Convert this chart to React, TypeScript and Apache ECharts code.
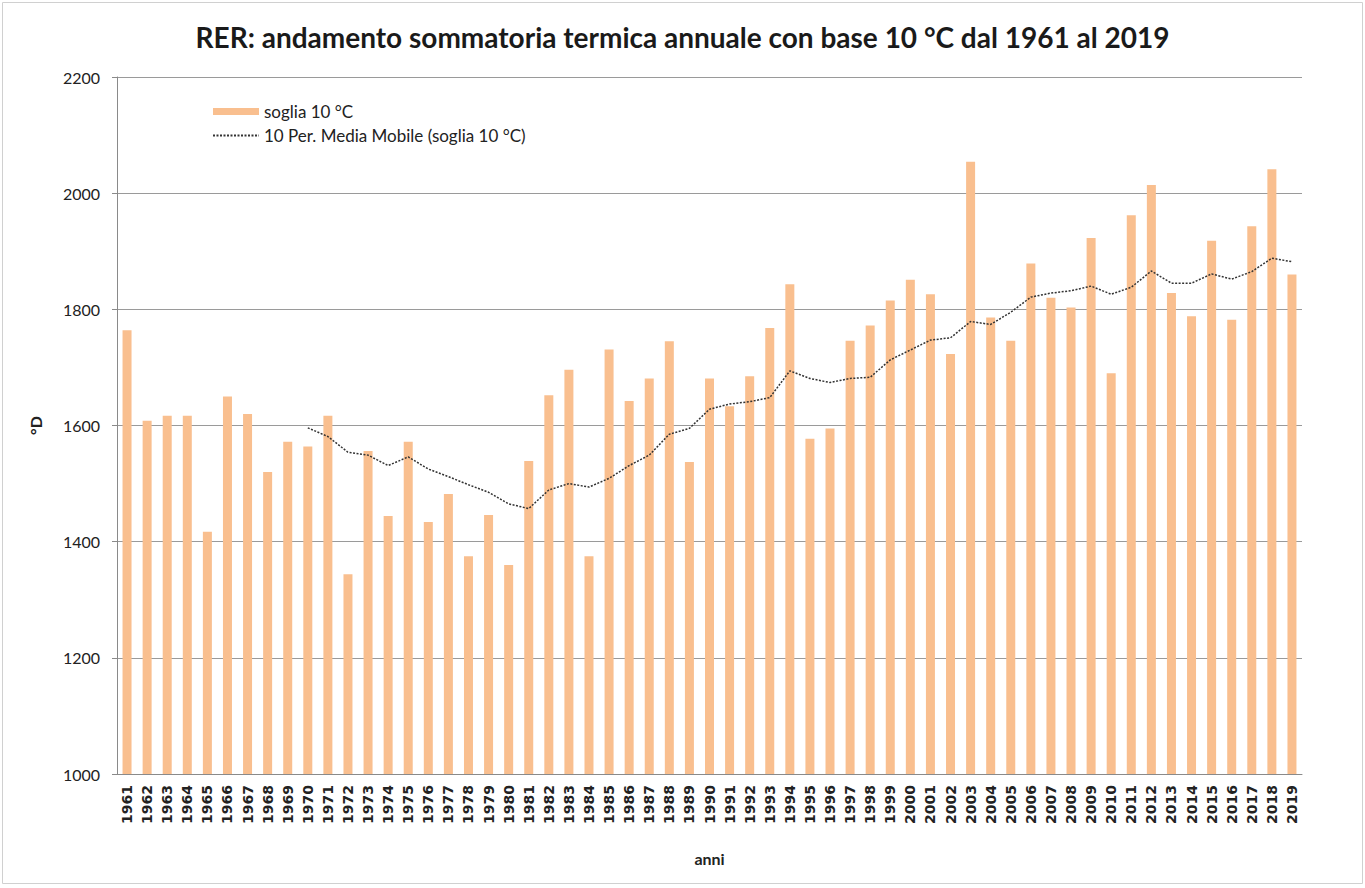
import React, { useEffect, useRef } from "react";
import * as echarts from "echarts";

const years: string[] = [
  "1961","1962","1963","1964","1965","1966","1967","1968","1969","1970",
  "1971","1972","1973","1974","1975","1976","1977","1978","1979","1980",
  "1981","1982","1983","1984","1985","1986","1987","1988","1989","1990",
  "1991","1992","1993","1994","1995","1996","1997","1998","1999","2000",
  "2001","2002","2003","2004","2005","2006","2007","2008","2009","2010",
  "2011","2012","2013","2014","2015","2016","2017","2018","2019",
];

const soglia10: number[] = [
  1764, 1608, 1617, 1617, 1417, 1650, 1620, 1520, 1572, 1564,
  1617, 1344, 1556, 1444, 1572, 1434, 1482, 1375, 1446, 1360,
  1539, 1652, 1696, 1375, 1731, 1642, 1681, 1745, 1537, 1681,
  1633, 1685, 1768, 1843, 1577, 1595, 1746, 1772, 1815, 1851,
  1826, 1723, 2054, 1786, 1746, 1879, 1820, 1803, 1923, 1690,
  1962, 2014, 1828, 1788, 1918, 1782, 1943, 2041, 1860,
];

const mediaMobile: (number | null)[] = [
  null, null, null, null, null, null, null, null, null, 1596,
  1581, 1554, 1549, 1531, 1546, 1525, 1512, 1498, 1485, 1465,
  1457, 1489, 1500, 1494, 1509, 1531, 1549, 1585, 1595, 1628,
  1637, 1641, 1648, 1694, 1681, 1674, 1681, 1683, 1713, 1730,
  1747, 1751, 1779, 1774, 1795, 1821, 1828, 1832, 1840, 1826,
  1838, 1866, 1845, 1845, 1861, 1852, 1865, 1888, 1882,
];

const yTicks = { min: 1000, max: 2200, interval: 200 };

export default function App() {
  const ref = useRef<HTMLDivElement>(null);
  useEffect(() => {
    if (!ref.current) return;
    const chart = echarts.init(ref.current, null, { renderer: "svg" });
    chart.setOption({
      animation: false,
      backgroundColor: "#ffffff",
      title: {
        text: "RER: andamento sommatoria termica annuale con base 10 °C dal 1961 al 2019",
        left: "center",
        top: 18,
        textStyle: { fontFamily: "Lato", fontWeight: "bold", fontSize: 28, color: "#1a1a1a" },
      },
      graphic: [
        {
          type: "rect",
          shape: { x: 2.5, y: 2.5, width: 1360, height: 881 },
          style: { fill: "none", stroke: "#d0d0d0", lineWidth: 1 },
          silent: true,
        },
      ],
      legend: {
        orient: "vertical",
        left: 212,
        top: 103,
        padding: 0,
        itemWidth: 46,
        itemHeight: 7,
        itemGap: 7,
        textStyle: { fontFamily: "Lato", fontSize: 17, color: "#222" },
        data: [
          { name: "soglia 10 °C", icon: "rect" },
          { name: "10 Per. Media Mobile (soglia 10 °C)", itemStyle: { opacity: 0 } },
        ],
      },
      grid: { left: 117, right: 63, top: 77, bottom: 114, containLabel: false },
      xAxis: {
        type: "category",
        data: years,
        name: "anni",
        nameLocation: "middle",
        nameGap: 76,
        nameTextStyle: { fontFamily: "Lato", fontWeight: "bold", fontSize: 16, color: "#222" },
        axisLine: { lineStyle: { color: "#8a8a8a" } },
        axisTick: { show: false },
        axisLabel: {
          rotate: 90,
          interval: 0,
          margin: 11,
          fontFamily: "DejaVu Sans",
          fontWeight: "bold",
          fontSize: 14,
          color: "#222",
        },
      },
      yAxis: {
        type: "value",
        min: yTicks.min,
        max: yTicks.max,
        interval: yTicks.interval,
        name: "°D",
        nameLocation: "middle",
        nameGap: 74,
        nameRotate: 90,
        nameTextStyle: { fontFamily: "Lato", fontWeight: "bold", fontSize: 16, color: "#222" },
        axisLine: { show: true, lineStyle: { color: "#8a8a8a" } },
        axisTick: { show: true, length: 5, lineStyle: { color: "#8a8a8a" } },
        axisLabel: {
          margin: 17,
          fontFamily: "Lato",
          fontSize: 16,
          color: "#222",
          formatter: (v: number) => String(v),
        },
        splitLine: { lineStyle: { color: "#9a9a9a", width: 1 } },
      },
      series: [
        {
          name: "soglia 10 °C",
          type: "bar",
          data: soglia10,
          barWidth: 9,
          itemStyle: { color: "#F9BF8F" },
        },
        {
          name: "10 Per. Media Mobile (soglia 10 °C)",
          type: "line",
          data: mediaMobile,
          symbol: "none",
          lineStyle: { color: "#333333", width: 1.5, type: [2, 1.5] },
          itemStyle: { color: "#333333" },
        },
      ],
    });
    return () => chart.dispose();
  }, []);
  return (
    <div
      ref={ref}
      style={{ position: "absolute", left: 0, top: 0, width: 1365, height: 888 }}
    />
  );
}
